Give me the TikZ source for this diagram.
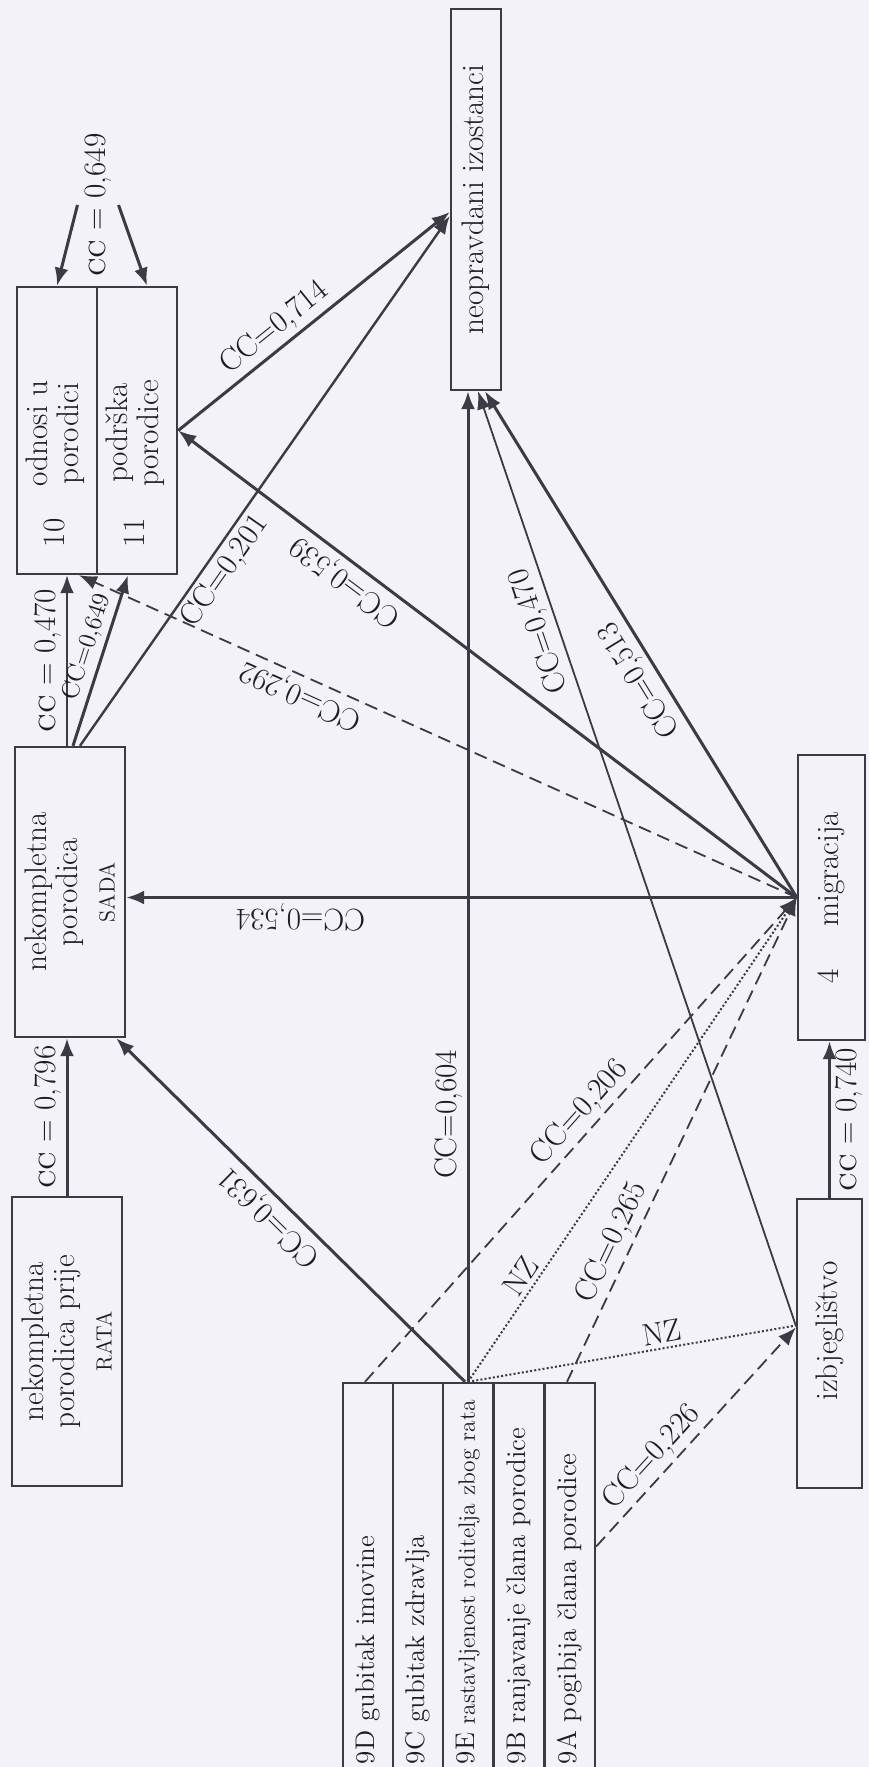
\documentclass[tikz,border=0pt]{standalone}
\usepackage{tikz}
\usetikzlibrary{arrows.meta}
\definecolor{paper}{RGB}{243,242,248}
\definecolor{ink}{RGB}{60,58,66}
\definecolor{inktext}{RGB}{30,28,34}
\begin{document}
\begin{tikzpicture}[
  x=0.5pt, y=-0.5pt,
  font=\fontsize{15.6}{15.5}\selectfont, text=inktext,
  >={Latex[length=9pt,width=7pt]},
  vbox/.style={rectangle, draw=ink, line width=1.2pt, fill=paper, rotate=90, inner sep=2pt},
  warbox/.style={vbox, minimum width=193.5pt, minimum height=25pt, inner xsep=3pt,
                 font=\fontsize{13.5}{15}\selectfont},
  flow/.style={->, draw=ink, line width=1.5pt},
  thinflow/.style={flow, line width=0.9pt},
  dflow/.style={flow, line width=0.9pt, dash pattern=on 6.5pt off 3.5pt},
  nz/.style={draw=ink, line width=1pt, dash pattern=on 1pt off 1.1pt},
  cc/.style={sloped, allow upside down, above, inner sep=2pt},
  ccb/.style={cc, below}
]
\useasboundingbox (0,0) rectangle (869,1767);
\fill[paper] (0,0) rectangle (869,1767);

\node[vbox, minimum width=190.5pt, minimum height=25pt] (neop) at (476,199.5) {neopravdani izostanci};
\node[vbox, minimum width=143.5pt, minimum height=40pt, inner xsep=13.5pt] (odnosi) at (57,430.5)
  {\makebox[116.5pt][l]{10\hspace{16pt}\begin{tabular}{@{}c@{}}odnosi u\\porodici\end{tabular}}};
\node[vbox, minimum width=143.5pt, minimum height=40pt, inner xsep=13.5pt] (podrska) at (137,430.5)
  {\makebox[116.5pt][l]{11\hspace{16pt}\begin{tabular}{@{}c@{}}podrška\\porodice\end{tabular}}};
\node[vbox, align=center, minimum width=145pt, minimum height=55pt] (sada) at (70,892)
  {nekompletna\\porodica\\[3pt]{\fontsize{11}{12}\selectfont SADA}};
\node[vbox, align=center, minimum width=144.5pt, minimum height=55pt] (rata) at (67,1341.5)
  {nekompletna\\porodica prije\\[3pt]{\fontsize{11}{12}\selectfont RATA}};
\node[vbox, minimum width=142.5pt, minimum height=33.5pt] (migr) at (831.5,897.5)
  {4\hspace{21pt}migracija\hspace{14pt}};
\node[vbox, minimum width=144.5pt, minimum height=32.5pt] (izbj) at (829.5,1343.5)
  {\hspace{12.5pt}izbjeglištvo};
\node[warbox] (d9D) at (368,1576.5) {\makebox[187.5pt][l]{9D gubitak imovine}};
\node[warbox] (d9C) at (418,1576.5) {\makebox[187.5pt][l]{9C gubitak zdravlja}};
\node[warbox] (d9E) at (468,1576.5)
  {\makebox[187.5pt][l]{9E {\fontsize{11.8}{13}\selectfont rastavljenost roditelja zbog rata}}};
\node[warbox, minimum height=25.5pt] (d9B) at (519,1576.5) {\makebox[187.5pt][l]{9B ranjavanje člana porodice}};
\node[warbox] (d9A) at (570,1576.5) {\makebox[187.5pt][l]{9A pogibija člana porodice}};
\node[rotate=90] (cc649) at (98,205) {\textsc{cc} = 0,649};

\draw[flow] (cc649.north) -- (odnosi.east);
\draw[flow] (cc649.south) -- ([xshift=5pt]podrska.east);
\draw[flow] (rata.east) -- node[cc]{\textsc{cc} = 0,796} (rata.east |- sada.west);
\draw[flow, line width=1.1pt] ([xshift=-1.5pt]sada.east) -- node[cc]{\textsc{cc} = 0,470} ([xshift=-1.5pt]sada.east |- odnosi.west);
\draw[flow] ([xshift=1.5pt]sada.east) -- node[cc, pos=0.55, font=\fontsize{12.5}{14}\selectfont]{CC=0,649} ([xshift=-4.5pt]podrska.west);
\draw[flow, line width=1.2pt] ([xshift=5pt]sada.east) -- node[ccb, pos=0.35]{CC=0,201} (neop.north |- 0,216);
\draw[flow] (podrska.south) -- node[cc, pos=0.4]{CC=0,714} (neop.north |- 0,212);
\draw[flow] (migr.north) -- node[cc, pos=0.74]{CC=0,534} (migr.north -| sada.south);
\draw[flow] (migr.north) -- node[cc, pos=0.71]{CC=0,539} (podrska.south);
\draw[dflow] (migr.north) -- node[cc, pos=0.68]{CC=0,292} ([xshift=11pt]odnosi.west);
\draw[flow] (migr.north) -- node[cc, pos=0.45]{CC=0,513} ([xshift=4.5pt]neop.west);
\draw[thinflow] ([yshift=9pt]izbj.north) -- node[cc, pos=0.75]{CC=0,470} ([xshift=1pt]neop.west);
\draw[flow] (izbj.east) -- node[ccb]{\textsc{cc} = 0,740} (izbj.east |- migr.west);
\draw[flow] (d9E.east) -- node[cc, pos=0.27]{CC=0,604} (d9E.east |- neop.west);
\draw[flow] ([xshift=-1.5pt]d9E.east) -- node[cc, pos=0.52]{CC=0,631} ([xshift=-5pt]sada.south west);
\draw[dflow] ([xshift=-1.5pt]d9D.east) -- node[cc, pos=0.53]{CC=0,206} (migr.north);
\draw[nz] (d9E.east) -- node[cc, pos=0.2]{NZ} (migr.north);
\draw[dflow] ([xshift=-1.5pt]d9A.east) -- node[cc, pos=0.27]{CC=0,265} (migr.north);
\draw[nz] (d9E.east) -- node[cc, pos=0.6]{NZ} ([yshift=9pt]izbj.north);
\draw[dflow] ([yshift=15pt]d9A.south) -- node[cc, pos=0.35]{CC=0,226} ([yshift=8pt]izbj.north);
\end{tikzpicture}
\end{document}
